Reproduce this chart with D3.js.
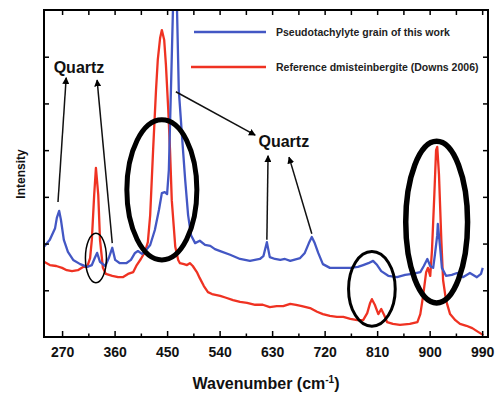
<!DOCTYPE html>
<html>
<head>
<meta charset="utf-8">
<script src="https://cdn.jsdelivr.net/npm/d3@7"></script>
<style>
  body { margin: 0; background: #fff; }
  svg { display: block; font-family: "Liberation Sans", Arial, sans-serif; font-weight: bold; }
</style>
</head>
<body>
<svg id="chart" width="499" height="394"></svg>
<script>
// Raman spectra (wavenumber in cm-1, intensity in arbitrary units)
const blueWavenumber = [239, 249, 258, 261, 265, 268, 273, 280, 289, 301, 313, 321, 326, 330, 335, 344, 350, 356, 361, 369,
  380, 388, 395, 400, 407, 414, 421, 429, 436, 441, 446, 450, 453, 457, 460, 464, 467, 470, 476, 481,
  486, 491, 498, 506, 515, 524, 532, 541, 558, 575, 592, 609, 615, 621, 626, 635, 644, 652, 661, 678,
  686, 693, 698, 703, 709, 717, 729, 746, 764, 777, 786, 795, 803, 810, 817, 829, 844, 858, 870, 884,
  890, 896, 901, 906, 909, 913, 914, 918, 921, 928, 938, 947, 957, 969, 981, 988, 991];
const blueIntensity = [19.3, 20.8, 23.3, 25.5, 27.0, 25.1, 20.8, 18.2, 16.5, 15.6, 15.0, 15.4, 16.9, 18.0, 16.1, 15.2, 16.9, 19.1, 16.5, 15.8,
  15.8, 16.5, 18.0, 18.4, 17.8, 18.6, 19.7, 22.9, 27.2, 30.8, 31.0, 30.6, 35.8, 55.0, 70.0, 85.0, 70.0, 52.9, 42.2, 33.6,
  26.1, 21.8, 20.1, 20.6, 19.7, 19.5, 18.8, 18.4, 17.6, 16.7, 16.3, 16.7, 17.3, 20.3, 17.1, 16.7, 16.5, 16.7, 16.3, 16.9,
  18.0, 20.1, 21.4, 20.1, 18.0, 15.6, 14.8, 14.8, 14.8, 15.0, 15.4, 15.8, 16.3, 15.4, 14.1, 13.1, 12.8, 13.3, 13.5, 13.9,
  15.2, 16.7, 15.2, 14.8, 17.6, 21.8, 24.2, 19.1, 14.8, 13.1, 13.3, 13.7, 12.8, 13.7, 12.8, 13.5, 14.8];

const redWavenumber = [239, 249, 260, 270, 278, 287, 297, 306, 313, 318, 321, 325, 328, 332, 335, 340, 345, 356, 366, 374,
  383, 392, 398, 405, 412, 417, 421, 426, 431, 434, 438, 441, 445, 448, 452, 455, 458, 464, 469, 472,
  479, 484, 489, 494, 501, 506, 513, 520, 527, 541, 551, 563, 575, 587, 601, 614, 626, 638, 649, 661,
  671, 681, 695, 707, 717, 729, 741, 752, 764, 776, 786, 793, 798, 801, 806, 812, 817, 822, 827, 837,
  849, 866, 879, 884, 889, 894, 897, 901, 904, 908, 911, 913, 916, 920, 923, 928, 935, 944, 952, 963,
  973, 983, 992];
const redIntensity = [16.1, 15.4, 15.2, 14.8, 14.3, 14.1, 14.3, 15.0, 15.0, 16.9, 20.8, 30.4, 36.2, 30.4, 20.8, 14.8, 13.5, 13.1, 12.8, 12.8,
  13.5, 13.9, 15.4, 16.7, 18.2, 20.3, 26.1, 40.0, 52.9, 59.3, 64.0, 65.7, 63.6, 58.2, 48.6, 40.0, 29.3, 19.3, 16.5, 15.8,
  15.6, 15.4, 15.8, 15.2, 13.9, 12.6, 10.9, 9.6, 9.2, 8.8, 8.4, 7.9, 7.5, 7.3, 6.9, 6.9, 6.4, 6.6, 6.6, 7.1,
  6.9, 6.6, 6.2, 5.4, 4.9, 4.5, 4.3, 4.3, 3.9, 3.6, 3.6, 5.1, 7.3, 8.1, 6.9, 4.9, 6.0, 4.7, 3.2, 2.8,
  2.6, 2.8, 3.2, 4.9, 9.0, 13.9, 14.8, 13.1, 18.6, 30.4, 40.0, 40.7, 34.7, 20.8, 12.2, 7.9, 4.9, 3.6, 2.8, 2.4,
  1.9, 1.1, 0.4];

const seriesNames = ["Pseudotachylyte grain of this work", "Reference dmisteinbergite (Downs 2006)"];
const seriesColors = ["#4357c4", "#ef3222"];

const xMajorTicks = [270, 360, 450, 540, 630, 720, 810, 900, 990];
const xMinorTicks = [315, 405, 495, 585, 675, 765, 855, 945];
const yTicks = [10, 20, 30, 40, 50, 60];

// annotations (data units): ellipse centre and radii, arrows from -> to
const ellipses = [
  { wn: 328, y: 16.9, rx: 18, ry: 5.3, w: 1.5 },
  { wn: 441, y: 31.5, rx: 60, ry: 15.0, w: 5 },
  { wn: 801, y: 10.3, rx: 40, ry: 8.0, w: 3 },
  { wn: 912, y: 24.6, rx: 53, ry: 17.3, w: 5.5 }
];
const arrows = [
  { x1: 263, y1: 28.9, x2: 277, y2: 55.5 },
  { x1: 356, y1: 20.1, x2: 330, y2: 55.0 },
  { x1: 465, y1: 52.5, x2: 601, y2: 43.2 },
  { x1: 621, y1: 20.8, x2: 623, y2: 38.8 },
  { x1: 698, y1: 22.1, x2: 659, y2: 38.5 }
];
const quartzLabels = [{ wn: 299, y: 57.8 }, { wn: 650, y: 41.8 }];

const margin = { top: 10, right: 11, bottom: 57, left: 44 };
const width = 499 - margin.left - margin.right;
const height = 394 - margin.top - margin.bottom;

const svg = d3.select('#chart');
const g = svg.append('g').attr('transform', `translate(${margin.left},${margin.top})`);

const x = d3.scaleLinear().domain([239, 1000]).range([0, width]);
const y = d3.scaleLinear().domain([0, 70]).range([height, 0]);

g.append('clipPath').attr('id', 'plot-clip')
  .append('rect').attr('width', width).attr('height', height);

const line = d3.line().x(d => x(d[0])).y(d => y(d[1]));

const blue = d3.zip(blueWavenumber, blueIntensity);
const red = d3.zip(redWavenumber, redIntensity);

const plot = g.append('g').attr('clip-path', 'url(#plot-clip)');
plot.append('path').datum(red)
  .attr('d', line).attr('fill', 'none')
  .attr('stroke', seriesColors[1]).attr('stroke-width', 2.3).attr('stroke-linejoin', 'round');
plot.append('path').datum(blue)
  .attr('d', line).attr('fill', 'none')
  .attr('stroke', seriesColors[0]).attr('stroke-width', 2.3).attr('stroke-linejoin', 'round');

// axes, ticks pointing inward
function styleAxis(sel) {
  sel.select('.domain').remove();
  sel.selectAll('line').attr('stroke', '#000').attr('stroke-width', 1.5);
}
g.append('g').attr('transform', `translate(0,${height})`)
  .call(d3.axisBottom(x).tickValues(xMajorTicks).tickSize(-6).tickPadding(10).tickFormat(d3.format('d')))
  .call(styleAxis)
  .call(s => s.selectAll('text').attr('fill', '#111').style('font-size', '14px').style('font-family', 'Liberation Sans, Arial').style('font-weight', 'bold'));
g.append('g').attr('transform', `translate(0,${height})`)
  .call(d3.axisBottom(x).tickValues(xMinorTicks).tickSize(-3.5).tickFormat(''))
  .call(styleAxis);
g.append('g')
  .call(d3.axisTop(x).tickValues(xMajorTicks.concat(xMinorTicks)).tickSize(-5).tickFormat(''))
  .call(styleAxis);
g.append('g')
  .call(d3.axisLeft(y).tickValues(yTicks).tickSize(-5).tickFormat(''))
  .call(styleAxis);
g.append('g').attr('transform', `translate(${width},0)`)
  .call(d3.axisRight(y).tickValues(yTicks).tickSize(-5).tickFormat(''))
  .call(styleAxis);

g.append('rect').attr('width', width).attr('height', height)
  .attr('fill', 'none').attr('stroke', '#000').attr('stroke-width', 2);

// annotation ellipses
g.selectAll('ellipse.note').data(ellipses).enter().append('ellipse')
  .attr('cx', d => x(d.wn)).attr('cy', d => y(d.y))
  .attr('rx', d => x(d.wn + d.rx) - x(d.wn))
  .attr('ry', d => y(d.y - d.ry) - y(d.y))
  .attr('fill', 'none').attr('stroke', '#000').attr('stroke-width', d => d.w);

// arrows
svg.append('defs').append('marker')
  .attr('id', 'head').attr('viewBox', '0 0 10 10').attr('refX', 9).attr('refY', 5)
  .attr('markerWidth', 7).attr('markerHeight', 7).attr('markerUnits', 'userSpaceOnUse')
  .attr('orient', 'auto')
  .append('path').attr('d', 'M0,0L10,5L0,10Z').attr('fill', '#000');

g.selectAll('line.arrow').data(arrows).enter().append('line')
  .attr('x1', d => x(d.x1)).attr('y1', d => y(d.y1))
  .attr('x2', d => x(d.x2)).attr('y2', d => y(d.y2))
  .attr('stroke', '#111').attr('stroke-width', 1.5)
  .attr('marker-end', 'url(#head)');

g.selectAll('text.quartz').data(quartzLabels).enter().append('text')
  .attr('x', d => x(d.wn)).attr('y', d => y(d.y))
  .attr('dy', '0.36em').attr('text-anchor', 'middle')
  .style('font-size', '16px').attr('fill', '#111')
  .text('Quartz');

// legend
const legend = g.append('g');
const legendRows = [22, 57];
seriesNames.forEach((name, i) => {
  const row = legend.append('g').attr('transform', `translate(0,${legendRows[i]})`);
  row.append('line').attr('x1', 150 - i * 3).attr('x2', 222)
    .attr('stroke', seriesColors[i]).attr('stroke-width', 2.5);
  row.append('text').attr('x', 232).attr('dy', '0.36em')
    .style('font-size', '10.5px').attr('fill', '#222').text(name);
});

// axis titles
svg.append('text')
  .attr('x', margin.left + width / 2).attr('y', 389)
  .attr('text-anchor', 'middle').style('font-size', '16px').attr('fill', '#111')
  .call(t => {
    t.append('tspan').text('Wavenumber (cm');
    t.append('tspan').attr('dy', -6).style('font-size', '10px').text('-1');
    t.append('tspan').attr('dy', 6).text(')');
  });

svg.append('text')
  .attr('transform', 'translate(25,174) rotate(-90)')
  .attr('text-anchor', 'middle').style('font-size', '12px').attr('fill', '#111')
  .text('Intensity');
</script>
</body>
</html>
